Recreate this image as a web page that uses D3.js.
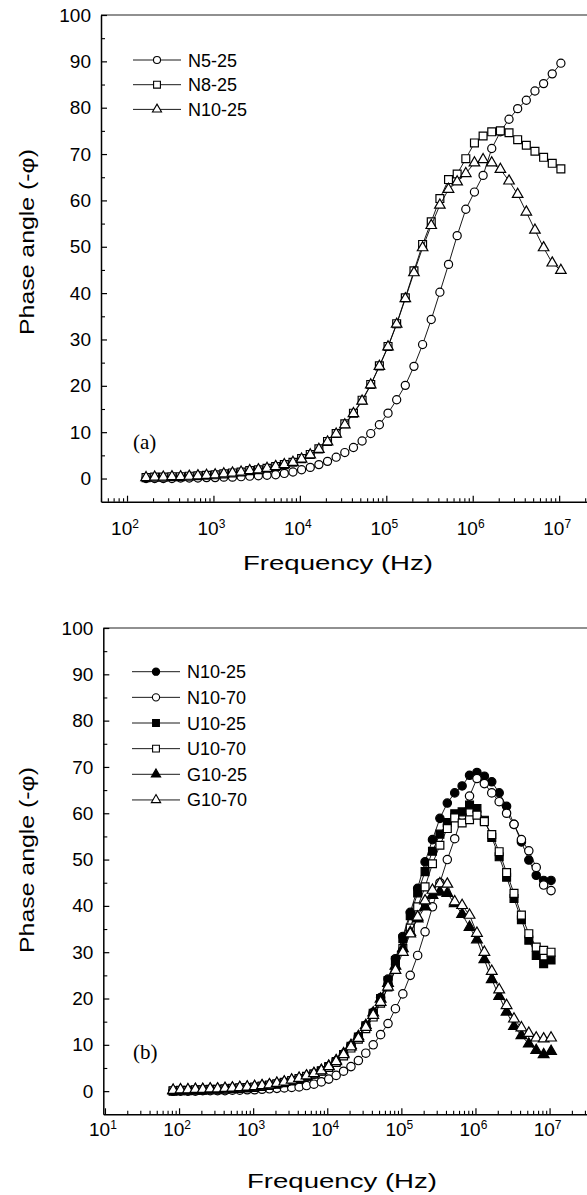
<!DOCTYPE html>
<html>
<head>
<meta charset="utf-8">
<script src="https://cdn.jsdelivr.net/npm/d3@7"></script>
<style>
body { margin: 0; background: #fff; }
text { font-family: "Liberation Sans", Arial, sans-serif; fill: #000; }
text.tag { font-family: "Liberation Serif", "Times New Roman", serif; }
</style>
</head>
<body>
<script>
//Width and height
var w = 587;
var h = 1195;

// ---- panel (a) data ----
var freqA = [166, 209, 263, 331, 417, 525, 661, 832, 1047, 1318,
    1660, 2089, 2630, 3311, 4169, 5248, 6607, 8318, 10471, 13183,
    16596, 20893, 26303, 33113, 41687, 52481, 66069, 83176, 104713, 131826,
    165959, 208930, 263027, 331131, 416869, 524807, 660693, 831764, 1047129, 1318257,
    1659587, 2089296, 2630268, 3311311, 4168694, 5248075, 6606934, 8317638, 10471285];

var n5_25 = [0.0, 0.0, 0.0, 0.0, 0.1, 0.1, 0.1, 0.2, 0.2, 0.3,
    0.3, 0.4, 0.5, 0.6, 0.7, 0.8, 1.1, 1.4, 1.9, 2.4,
    3.0, 3.7, 4.6, 5.6, 6.7, 8.1, 9.7, 11.6, 14.1, 17.0,
    20.1, 24.2, 28.9, 34.3, 40.2, 46.2, 52.4, 58.1, 61.8, 65.4,
    71.2, 74.8, 77.5, 79.8, 81.6, 83.6, 85.2, 87.3, 89.6];

var n8_25 = [0.2, 0.3, 0.3, 0.4, 0.4, 0.5, 0.6, 0.7, 0.8, 1.0,
    1.2, 1.4, 1.7, 1.9, 2.2, 2.6, 3.0, 3.5, 4.3, 5.2,
    6.4, 8.0, 9.7, 11.8, 14.1, 16.9, 20.3, 24.3, 28.5, 33.4,
    39.0, 44.8, 50.5, 55.4, 60.4, 64.5, 65.7, 69.0, 72.4, 73.9,
    74.8, 75.0, 74.6, 73.1, 71.9, 70.6, 69.3, 68.0, 66.8];

var n10_25a = [0.2, 0.3, 0.3, 0.4, 0.4, 0.5, 0.6, 0.7, 0.8, 1.0,
    1.2, 1.4, 1.7, 1.9, 2.2, 2.6, 3.0, 3.5, 4.2, 5.1,
    6.3, 7.9, 9.6, 11.6, 14.0, 16.7, 20.2, 24.2, 28.4, 33.3,
    38.8, 44.4, 49.8, 54.6, 59.0, 62.4, 64.0, 65.8, 68.1, 68.8,
    68.1, 66.7, 64.2, 61.3, 57.5, 53.6, 49.8, 46.5, 44.9];

var namesA = ["N5-25", "N8-25", "N10-25"];

// ---- panel (b) data ----
var freqB = [83.2, 104.7, 131.8, 166.0, 208.9, 263.0, 331.1, 416.9, 524.8, 660.7,
    831.8, 1047, 1318, 1660, 2089, 2630, 3311, 4169, 5248, 6607,
    8318, 10471, 13183, 16596, 20893, 26303, 33113, 41687, 52481, 66069,
    83176, 104713, 131826, 165959, 208930, 263027, 331131, 416869, 524807, 660693,
    831764, 1047129, 1318257, 1659587, 2089296, 2630268, 3311311, 4168694, 5248075, 6606934,
    8317638, 10471285];

var n10_25 = [0.0, 0.1, 0.1, 0.2, 0.2, 0.3, 0.3, 0.4, 0.5, 0.6,
    0.7, 0.8, 1.0, 1.2, 1.5, 1.8, 2.2, 2.6, 3.1, 3.7,
    4.4, 5.3, 6.5, 8.0, 9.8, 11.8, 14.2, 17.0, 20.2, 24.2,
    28.6, 33.4, 38.6, 43.8, 49.5, 54.3, 58.9, 62.2, 64.4, 65.9,
    68.2, 68.8, 68.0, 66.8, 64.4, 61.5, 57.6, 53.8, 49.9, 46.6,
    45.5, 45.5];

var n10_70 = [0.0, 0.0, 0.0, 0.0, 0.1, 0.1, 0.1, 0.1, 0.2, 0.2,
    0.3, 0.3, 0.4, 0.5, 0.6, 0.7, 0.8, 0.9, 1.2, 1.5,
    2.0, 2.6, 3.4, 4.3, 5.3, 6.6, 8.2, 10.0, 12.2, 14.6,
    17.8, 21.0, 25.0, 29.3, 34.4, 39.8, 45.0, 50.0, 54.5, 59.5,
    63.7, 67.5, 66.4, 64.4, 62.5, 60.0, 57.6, 54.3, 51.9, 48.3,
    44.5, 43.3];

var u10_25 = [0.0, 0.1, 0.1, 0.2, 0.2, 0.3, 0.3, 0.4, 0.5, 0.6,
    0.7, 0.8, 1.0, 1.2, 1.5, 1.8, 2.2, 2.6, 3.1, 3.7,
    4.4, 5.3, 6.4, 7.9, 9.7, 11.7, 14.1, 16.8, 20.0, 23.9,
    28.2, 32.9, 37.9, 42.8, 47.4, 51.8, 55.5, 58.0, 59.9, 60.3,
    61.8, 61.0, 58.5, 54.8, 50.6, 46.2, 41.6, 37.0, 32.6, 29.3,
    27.5, 28.3];

var u10_70 = [0.1, 0.2, 0.2, 0.3, 0.3, 0.4, 0.4, 0.5, 0.6, 0.7,
    0.8, 0.9, 1.1, 1.3, 1.6, 1.9, 2.3, 2.7, 3.2, 3.7,
    4.3, 5.1, 6.2, 7.6, 9.3, 11.2, 13.5, 16.0, 19.0, 22.5,
    26.5, 30.8, 35.2, 39.8, 44.1, 49.1, 53.1, 56.7, 59.0, 57.9,
    58.6, 59.6, 58.2, 55.4, 51.7, 47.2, 42.7, 38.0, 34.0, 31.1,
    30.4, 30.0];

var g10_25 = [0.1, 0.2, 0.2, 0.3, 0.3, 0.4, 0.4, 0.5, 0.6, 0.7,
    0.8, 0.9, 1.1, 1.3, 1.6, 1.9, 2.3, 2.7, 3.2, 3.8,
    4.5, 5.4, 6.6, 8.1, 9.9, 11.8, 14.2, 16.9, 19.9, 23.3,
    27.0, 30.8, 34.3, 37.2, 39.8, 42.3, 43.0, 42.7, 40.5, 38.2,
    35.4, 32.7, 28.4, 24.1, 20.5, 17.1, 14.0, 12.0, 10.2, 8.8,
    7.9, 8.6];

var g10_70 = [0.2, 0.3, 0.3, 0.4, 0.4, 0.5, 0.5, 0.6, 0.7, 0.8,
    0.9, 1.0, 1.2, 1.4, 1.7, 2.0, 2.4, 2.8, 3.3, 3.8,
    4.4, 5.3, 6.4, 7.9, 9.6, 11.4, 13.8, 16.4, 19.2, 22.5,
    26.1, 30.0, 34.0, 37.6, 41.1, 43.4, 44.8, 44.7, 40.9, 40.1,
    38.0, 34.1, 30.0, 25.9, 21.9, 18.5, 15.6, 13.7, 12.5, 11.5,
    11.3, 11.5];

var namesB = ["N10-25", "N10-70", "U10-25", "U10-70", "G10-25", "G10-70"];

// ---- axis ticks ----
var yMajor = [0, 10, 20, 30, 40, 50, 60, 70, 80, 90, 100];
var yMinor = [5, 15, 25, 35, 45, 55, 65, 75, 85, 95];
var decA = [2, 3, 4, 5, 6, 7];
var decB = [1, 2, 3, 4, 5, 6, 7];

//Create SVG element
var svg = d3.select("body")
    .append("svg")
    .attr("width", w)
    .attr("height", h);

var zip = function(fr, vals) {
    return fr.map(function(f, i) { return {f: f, v: vals[i]}; });
};

var minorsFor = function(lo, hi) {
    var out = [];
    for (var e = Math.floor(Math.log10(lo)); e <= Math.ceil(Math.log10(hi)); e++) {
        for (var k = 2; k <= 9; k++) {
            var v = k * Math.pow(10, e);
            if (v >= lo && v <= hi) out.push(v);
        }
    }
    return out;
};

var drawPanel = function(p) {
    var g = svg.append("g");
    var x = p.x, y = p.y;
    var x0 = x.range()[0], yb = y.range()[0], yt = y.range()[1];

    // frame top
    g.append("line")
        .attr("x1", x0).attr("x2", w)
        .attr("y1", yt).attr("y2", yt)
        .attr("stroke", "#222").attr("stroke-width", 1.2);

    // x axis
    g.append("g")
        .attr("transform", "translate(0," + yb + ")")
        .call(d3.axisBottom(x).tickValues(p.dec.map(function(d) { return Math.pow(10, d); }))
            .tickSizeInner(-6).tickSizeOuter(0).tickFormat(""))
        .call(function(a) { a.select(".domain").attr("stroke-width", 1.5); a.selectAll("line").attr("stroke-width", 1.2); });
    g.append("g")
        .attr("transform", "translate(0," + yb + ")")
        .call(d3.axisBottom(x).tickValues(minorsFor(x.domain()[0], x.domain()[1]))
            .tickSizeInner(-3.5).tickSizeOuter(0).tickFormat(""))
        .call(function(a) { a.select(".domain").remove(); a.selectAll("line").attr("stroke-width", 1.1); });

    // x tick labels 10^n
    var lab = g.selectAll("text.xl")
        .data(p.dec)
        .enter()
        .append("text")
        .attr("class", "xl")
        .attr("x", function(d) { return x(Math.pow(10, d)) - 2; })
        .attr("y", yb + p.xlabOff)
        .attr("text-anchor", "middle")
        .attr("font-size", "19px");
    lab.append("tspan").text("10");
    lab.append("tspan").attr("font-size", "12px").attr("dy", -7).text(function(d) { return d; });

    // y axis
    g.append("g")
        .attr("transform", "translate(" + x0 + ",0)")
        .call(d3.axisLeft(y).tickValues(yMajor).tickSizeInner(-6).tickSizeOuter(0).tickPadding(10))
        .call(function(a) {
            a.select(".domain").attr("stroke-width", 1.5);
            a.selectAll("line").attr("stroke-width", 1.2);
            a.selectAll("text").attr("font-size", "19px").attr("font-family", null);
        });
    g.append("g")
        .attr("transform", "translate(" + x0 + ",0)")
        .call(d3.axisLeft(y).tickValues(yMinor).tickSizeInner(-4).tickSizeOuter(0).tickFormat(""))
        .call(function(a) { a.select(".domain").remove(); a.selectAll("line").attr("stroke-width", 1.1); });

    // axis titles
    g.append("text")
        .attr("x", p.xtX).attr("y", p.xtY)
        .attr("text-anchor", "middle")
        .attr("font-size", "21px")
        .attr("textLength", 190)
        .attr("lengthAdjust", "spacingAndGlyphs")
        .text("Frequency (Hz)");
    g.append("text")
        .attr("transform", "translate(" + p.ytX + "," + p.ytY + ") rotate(-90)")
        .attr("text-anchor", "middle")
        .attr("font-size", "21px")
        .attr("textLength", 186)
        .attr("lengthAdjust", "spacingAndGlyphs")
        .text("Phase angle (-\u03c6)");

    // panel tag
    g.append("text")
        .attr("class", "tag")
        .attr("x", 133).attr("y", p.tagY)
        .attr("font-size", "21px")
        .text(p.tag);

    var line = d3.line()
        .x(function(d) { return x(d.f); })
        .y(function(d) { return y(d.v); });

    // series
    p.series.forEach(function(s) {
        var pts = zip(p.freq, s.vals);
        g.append("path")
            .datum(pts)
            .attr("d", line)
            .attr("fill", "none")
            .attr("stroke", "#000")
            .attr("stroke-width", 0.9);
        g.selectAll(null)
            .data(pts)
            .enter()
            .append("path")
            .attr("transform", function(d) { return "translate(" + x(d.f) + "," + y(d.v) + ")"; })
            .attr("d", d3.symbol().type(s.sym).size(s.size))
            .attr("fill", s.fill)
            .attr("stroke", "#000")
            .attr("stroke-width", 1.2);
    });

    // legend
    var leg = g.selectAll("g.leg")
        .data(p.series)
        .enter()
        .append("g")
        .attr("class", "leg")
        .attr("transform", function(d, i) { return "translate(0," + (p.legY + i * p.legDy) + ")"; });
    leg.append("line")
        .attr("x1", p.legX).attr("x2", p.legX + 48)
        .attr("stroke", "#000").attr("stroke-width", 0.9);
    leg.append("path")
        .attr("transform", "translate(" + (p.legX + 24) + ",0)")
        .attr("d", function(d) { return d3.symbol().type(d.sym).size(d.size * 0.75)(); })
        .attr("fill", function(d) { return d.fill; })
        .attr("stroke", "#000")
        .attr("stroke-width", 1.1);
    leg.append("text")
        .attr("x", p.legX + 55)
        .attr("y", 6.5)
        .attr("font-size", "18px")
        .text(function(d) { return d.name; });
};

var CIR = d3.symbolCircle, SQ = d3.symbolSquare, TRI = d3.symbolTriangle;

drawPanel({
    x: d3.scaleLog().domain([50, 2.1e7]).range([101, w]),
    y: d3.scaleLinear().domain([-5, 100]).range([501.7, 15]),
    dec: decA, freq: freqA, xlabOff: 33,
    xtX: 338, xtY: 570, ytX: 34, ytY: 242,
    tag: "(a)", tagY: 449,
    legX: 133, legY: 60, legDy: 24.7,
    series: [
        {name: namesA[0], vals: n5_25, sym: CIR, size: 52, fill: "#fff"},
        {name: namesA[1], vals: n8_25, sym: SQ, size: 62, fill: "#fff"},
        {name: namesA[2], vals: n10_25a, sym: TRI, size: 48, fill: "#fff"}
    ]
});

drawPanel({
    x: d3.scaleLog().domain([9.5, 3.2e7]).range([103.3, w]),
    y: d3.scaleLinear().domain([-5, 100]).range([1114.3, 628]),
    dec: decB, freq: freqB, xlabOff: 22,
    xtX: 342, xtY: 1188, ytX: 34, ytY: 860,
    tag: "(b)", tagY: 1059,
    legX: 132, legY: 671.7, legDy: 25.65,
    series: [
        {name: namesB[0], vals: n10_25, sym: CIR, size: 55, fill: "#000"},
        {name: namesB[1], vals: n10_70, sym: CIR, size: 55, fill: "#fff"},
        {name: namesB[2], vals: u10_25, sym: SQ, size: 62, fill: "#000"},
        {name: namesB[3], vals: u10_70, sym: SQ, size: 62, fill: "#fff"},
        {name: namesB[4], vals: g10_25, sym: TRI, size: 50, fill: "#000"},
        {name: namesB[5], vals: g10_70, sym: TRI, size: 50, fill: "#fff"}
    ]
});
</script>
</body>
</html>
